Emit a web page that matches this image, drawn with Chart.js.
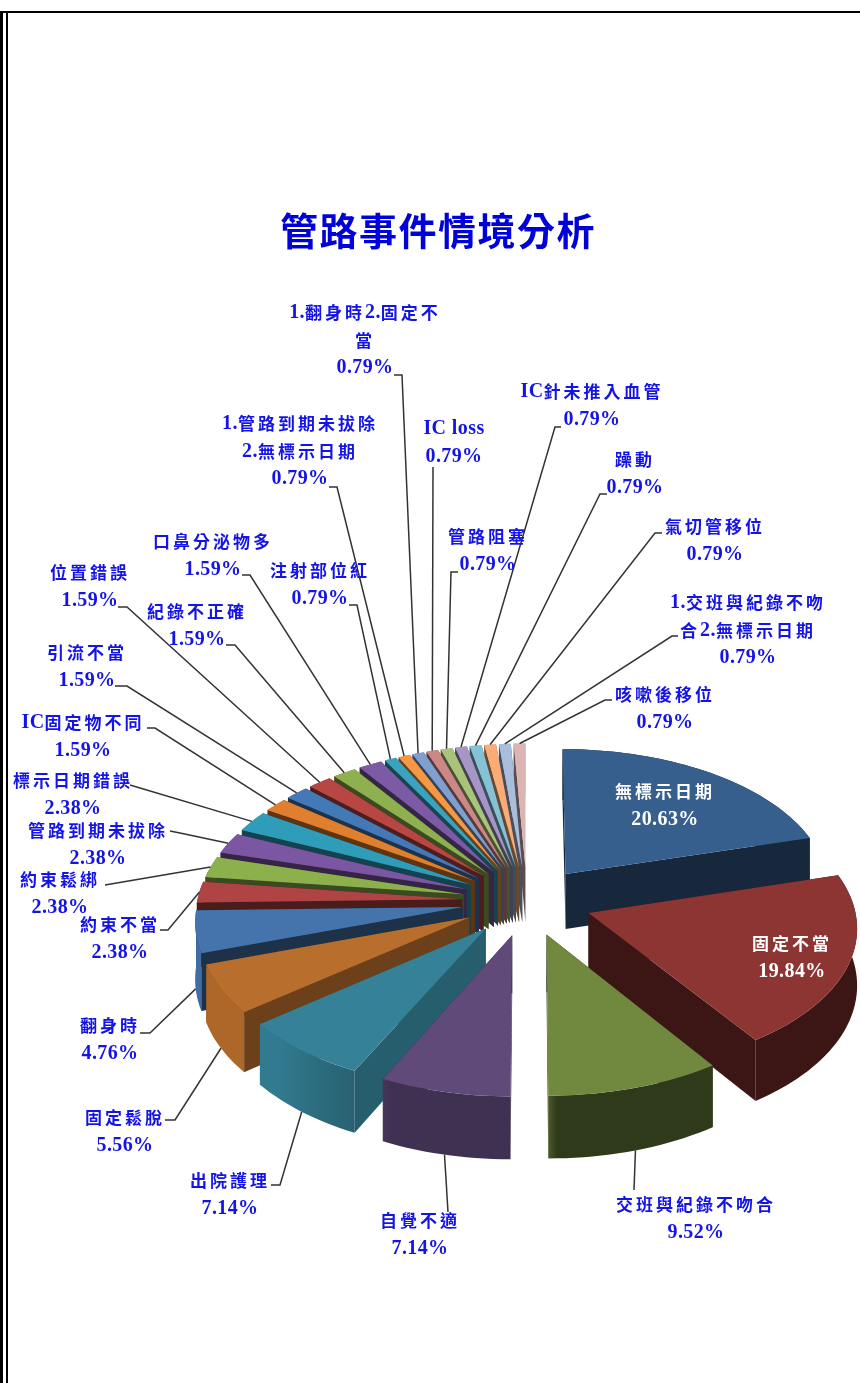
<!DOCTYPE html>
<html>
<head>
<meta charset="utf-8">
<title>管路事件情境分析</title>
<script src="https://cdn.jsdelivr.net/npm/chart.js@4"></script>
<style>
    html, body { margin: 0; padding: 0; background: #fff; overflow: hidden; }
    #wrap { position: relative; width: 860px; height: 1383px; }
    #chart { position: absolute; left: 0; top: 0; }
    .rule { position: absolute; background: #000; }
</style>
</head>
<body>
<div id="wrap">
    <canvas id="chart" width="860" height="1383"></canvas>
    <div class="rule" style="left:0;top:11px;width:860px;height:2px"></div>
    <div class="rule" style="left:0;top:11px;width:3px;height:1372px"></div>
    <div class="rule" style="left:6px;top:11px;width:2px;height:1372px"></div>
</div>
<script>
const chartTitle = '管路事件情境分析';

const categories = [
    '無標示日期', '固定不當', '交班與紀錄不吻合', '自覺不適', '出院護理', '固定鬆脫', '翻身時',
    '約束不當', '約束鬆綁', '管路到期未拔除', '標示日期錯誤', 'IC固定物不同', '引流不當',
    '位置錯誤', '紀錄不正確', '口鼻分泌物多', '注射部位紅', '1.管路到期未拔除\n2.無標示日期',
    '1.翻身時2.固定不\n當', 'IC loss', '管路阻塞', 'IC針未推入血管', '躁動', '氣切管移位',
    '1.交班與紀錄不吻\n合2.無標示日期', '咳嗽後移位'
];

const percents = [
    20.63, 19.84, 9.52, 7.14, 7.14, 5.56, 4.76,
    2.38, 2.38, 2.38, 2.38, 1.59, 1.59,
    1.59, 1.59, 1.59, 0.79, 0.79,
    0.79, 0.79, 0.79, 0.79, 0.79, 0.79,
    0.79, 0.79
];

const sliceColors = [
    '#365f8e', '#8d3533', '#71893f', '#5f4a7a', '#358298', '#b86e2c', '#4574ac',
    '#b04444', '#8cb04c', '#7b57a3', '#2f9dba', '#e07f2e', '#4479b8',
    '#b84744', '#8fb04e', '#7c5aa5', '#3aa3bf', '#f59845', '#7f9fd0',
    '#cc8886', '#a9c47a', '#a596c5', '#85c2d5', '#f9ac78', '#a9bedd',
    '#dbb5b4'
];

// label centre (first line), leader path after the slice edge
const labelLayout = [
    { x: 665, y: 791, path: [] },
    { x: 792, y: 943, path: [] },
    { x: 696, y: 1204, path: [[634, 1190]] },
    { x: 420, y: 1220, path: [[448, 1212]] },
    { x: 230, y: 1180, path: [[280, 1185], [271, 1185]] },
    { x: 125, y: 1117, path: [[175, 1120], [165, 1120]] },
    { x: 110, y: 1025, path: [[150, 1033], [140, 1033]] },
    { x: 120, y: 924, path: [[168, 930], [160, 930]] },
    { x: 60, y: 879, path: [[105, 885]] },
    { x: 98, y: 830, path: [[180, 833], [170, 831]] },
    { x: 73, y: 780, path: [[130, 785]] },
    { x: 83, y: 722, path: [[155, 728], [147, 728]] },
    { x: 87, y: 652, path: [[127, 686], [115, 686]] },
    { x: 90, y: 572, path: [[127, 607], [118, 607]] },
    { x: 197, y: 611, path: [[235, 645], [226, 645]] },
    { x: 213, y: 541, path: [[250, 575], [242, 575]] },
    { x: 320, y: 570, path: [[357, 605], [349, 605]] },
    { x: 300, y: 423, path: [[337, 487], [329, 487]] },
    { x: 365, y: 312, path: [[402, 375], [394, 375]] },
    { x: 454, y: 428, path: [[433, 467]] },
    { x: 488, y: 536, path: [[451, 572], [458, 572]] },
    { x: 592, y: 391, path: [[555, 427], [561, 427]] },
    { x: 635, y: 459, path: [[600, 494], [607, 494]] },
    { x: 715, y: 526, path: [[655, 533], [662, 533]] },
    { x: 748, y: 602, path: [[672, 636], [678, 636]] },
    { x: 665, y: 694, path: [[605, 700], [612, 700]] }
];

// fake 3D view of the pie plane
const view = { cy: 901, tilt: 0.53, dist: 3000, depth: 56 };

function project(x, u, v, z) {
    const s = view.dist / (view.dist - v);
    return [x + u * s, view.cy + view.tilt * v * s + (z || 0) * view.depth * s];
}

function shade(hex, f) {
    const n = parseInt(hex.slice(1), 16);
    const r = Math.round(((n >> 16) & 255) * f);
    const g = Math.round(((n >> 8) & 255) * f);
    const b = Math.round((n & 255) * f);
    return `rgb(${r},${g},${b})`;
}

function clockDeg(angle) {
    return ((angle + Math.PI / 2) * 180 / Math.PI + 360) % 360;
}

// outer wall is lit from the left, dark towards the right and front
function rimLight(angle) {
    const deg = clockDeg(angle);
    if (deg < 179.9) return 0.42;
    if (deg < 205) return 0.66;
    if (deg < 225) return 0.74 + (deg - 205) / 20 * 0.2;
    return 0.94;
}

// the cut faces get some of that light too, only on the front left slices
function cutLight(mid) {
    const deg = clockDeg(mid);
    if (deg > 200 && deg < 230) return 0.72;
    if (deg >= 230 && deg < 250) return 0.58;
    return 0.42;
}

function fillPoly(ctx, pts, color) {
    ctx.beginPath();
    pts.forEach((p, i) => i ? ctx.lineTo(p[0], p[1]) : ctx.moveTo(p[0], p[1]));
    ctx.closePath();
    ctx.fillStyle = color;
    ctx.fill();
}

function sliceGeom(arc) {
    const mid = (arc.startAngle + arc.endAngle) / 2;
    const off = arc.options.offset;
    return { mid, ou: Math.cos(mid) * off, ov: Math.sin(mid) * off, r: arc.outerRadius };
}

function drawSlice(ctx, arc, color) {
    const g = sliceGeom(arc);
    const steps = Math.max(3, Math.ceil((arc.endAngle - arc.startAngle) / 0.03));
    const rim = [];
    for (let i = 0; i <= steps; i++) {
        const a = arc.startAngle + (arc.endAngle - arc.startAngle) * i / steps;
        rim.push({ a, u: g.ou + Math.cos(a) * g.r, v: g.ov + Math.sin(a) * g.r });
    }
    const apexT = project(arc.x, g.ou, g.ov, 0);
    const apexB = project(arc.x, g.ou, g.ov, 1);
    const first = rim[0], last = rim[steps];
    const cutColor = shade(color, cutLight(g.mid));
    const wall = (p) => [apexT, project(arc.x, p.u, p.v, 0), project(arc.x, p.u, p.v, 1), apexB];
    const rimTop = rim.map(p => project(arc.x, p.u, p.v, 0));
    const rimBottom = rim.map(p => project(arc.x, p.u, p.v, 1)).reverse();

    // one gradient across the whole rim, separate strips leave seams
    const x0 = rimTop[0][0], x1 = rimTop[steps][0];
    const grad = ctx.createLinearGradient(x0, 0, x1 === x0 ? x0 + 1 : x1, 0);
    rim.forEach((p, i) => {
        const t = Math.min(1, Math.max(0, (rimTop[i][0] - x0) / ((x1 - x0) || 1)));
        grad.addColorStop(t, shade(color, rimLight(p.a)));
    });

    // back radial wall first, then the rim, then the front radial wall
    const backFirst = first.v < last.v;
    fillPoly(ctx, wall(backFirst ? first : last), cutColor);
    fillPoly(ctx, rimTop.concat(rimBottom), grad);
    fillPoly(ctx, wall(backFirst ? last : first), cutColor);

    fillPoly(ctx, [apexT].concat(rimTop), color);
}

// CJK and latin runs take different sizes, as in the original
function drawLine(ctx, line, cx, y) {
    const runs = line.match(/[\x00-\x7f]+|[^\x00-\x7f]+/g).map(text => {
        const latin = text.charCodeAt(0) < 128;
        return {
            text,
            font: latin ? 'bold 20px "Liberation Serif"' : 'bold 17px "Noto Sans CJK TC"',
            spacing: latin ? '0.4px' : '3px'
        };
    });
    let total = 0;
    runs.forEach(r => {
        ctx.font = r.font;
        ctx.letterSpacing = r.spacing;
        r.width = ctx.measureText(r.text).width;
        total += r.width;
    });
    let x = cx - total / 2;
    runs.forEach(r => {
        ctx.font = r.font;
        ctx.letterSpacing = r.spacing;
        ctx.fillText(r.text, x, y);
        x += r.width;
    });
}

const pie3d = {
    id: 'pie3d',
    afterLayout(chart) {
        // title sits centred on the page, not on the pie
        chart.titleBlock.left = 0;
        chart.titleBlock.right = 876;
    },
    beforeDraw(chart) {
        chart.ctx.letterSpacing = '1.5px';
    },
    beforeDatasetDraw(chart, args) {
        const meta = args.meta;
        const ctx = chart.ctx;
        const order = meta.data.map((arc, i) => i);
        order.sort((a, b) => sliceGeom(meta.data[a]).ov - sliceGeom(meta.data[b]).ov);
        ctx.save();
        order.forEach(i => drawSlice(ctx, meta.data[i], sliceColors[i]));
        ctx.restore();
        return false;
    },
    afterDatasetsDraw(chart) {
        const ctx = chart.ctx;
        const meta = chart.getDatasetMeta(0);
        ctx.save();
        ctx.strokeStyle = '#333';
        ctx.lineWidth = 1.5;
        meta.data.forEach((arc, i) => {
            const path = labelLayout[i].path;
            if (!path.length) return;
            const g = sliceGeom(arc);
            // slices at the front hang the leader from the bottom of the wall
            const z = (i >= 2 && i <= 6) ? 1 : 0;
            const start = project(arc.x, g.ou + Math.cos(g.mid) * g.r, g.ov + Math.sin(g.mid) * g.r, z);
            ctx.beginPath();
            ctx.moveTo(start[0], start[1]);
            path.forEach(p => ctx.lineTo(p[0], p[1]));
            ctx.stroke();
        });
        ctx.textAlign = 'left';
        ctx.textBaseline = 'middle';
        categories.forEach((name, i) => {
            const lines = name.split('\n').concat(percents[i].toFixed(2) + '%');
            ctx.fillStyle = i < 2 ? '#fff' : '#1414e6';
            lines.forEach((line, j) => {
                drawLine(ctx, line, labelLayout[i].x, labelLayout[i].y + 1 + j * 27.5);
            });
        });
        ctx.restore();
    }
};

new Chart(document.getElementById('chart'), {
    type: 'pie',
    data: {
        labels: categories,
        datasets: [{
            data: percents,
            backgroundColor: sliceColors,
            borderWidth: 0,
            offset: 65
        }]
    },
    options: {
        responsive: false,
        animation: false,
        layout: { padding: { left: 229.5, right: 35.5, top: 212, bottom: 185.5 } },
        plugins: {
            legend: { display: false },
            tooltip: { enabled: false },
            title: {
                display: true,
                text: chartTitle,
                color: '#0000d8',
                font: { family: '"Liberation Serif", "Noto Sans CJK TC"', size: 38, weight: 'bold' },
                padding: { top: 0, bottom: 344.9 }
            }
        }
    },
    plugins: [pie3d]
});
</script>
</body>
</html>
